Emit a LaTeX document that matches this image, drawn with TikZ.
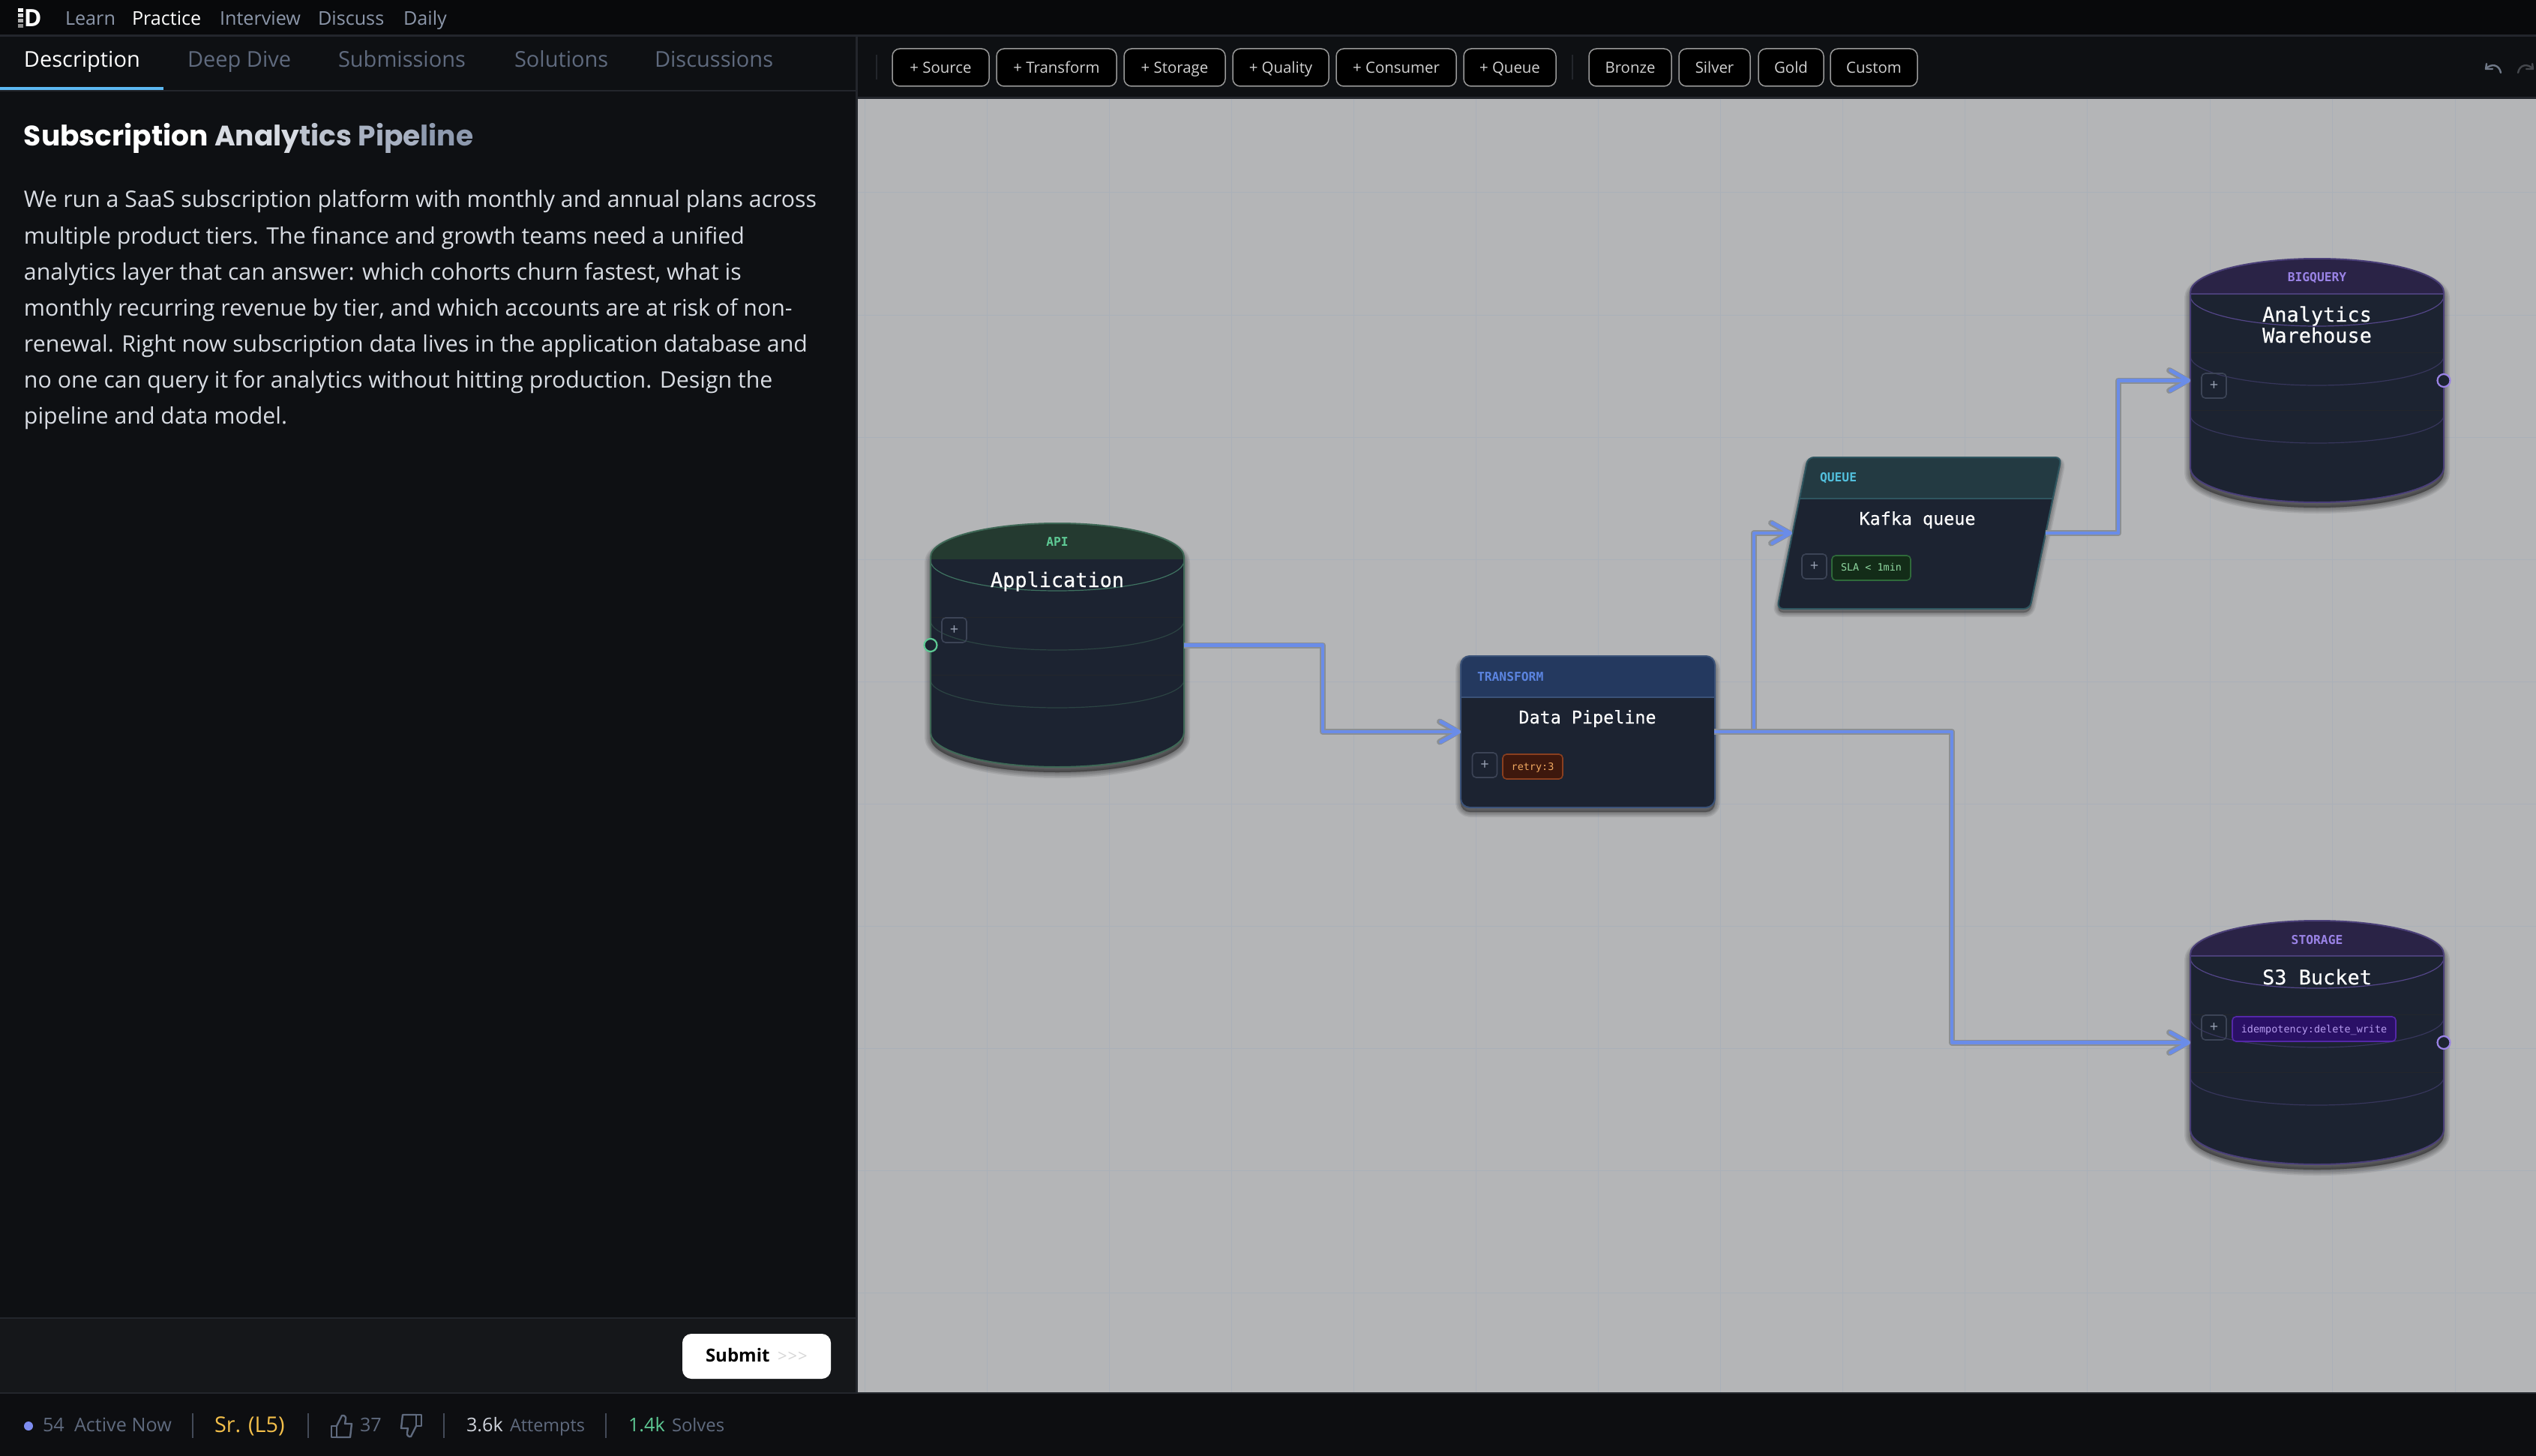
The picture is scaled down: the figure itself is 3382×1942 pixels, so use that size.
\documentclass[tikz,border=0pt]{standalone}
\usepackage{fontspec}
\usetikzlibrary{arrows.meta}
\setmainfont{Open Sans}
\newfontfamily\titlefont{Poppins}
\newfontfamily\codefont{DejaVu Sans Mono}
\newfontfamily\codeheavy[FakeBold=0.25]{DejaVu Sans Mono}
\newcommand{\pxfont}[1]{\fontsize{#1}{#1}\selectfont}
\definecolor{topbar}{HTML}{08090B}
\definecolor{panel}{HTML}{0E1013}
\definecolor{rule}{HTML}{23262C}
\definecolor{submitbar}{HTML}{15171A}
\definecolor{footer}{HTML}{0D0E11}
\definecolor{canvas}{HTML}{B4B5B7}
\definecolor{gridc}{HTML}{AAB0B8}
\definecolor{body}{HTML}{1C2331}
\definecolor{muted}{HTML}{5F6A7E}
\definecolor{navmuted}{HTML}{8C97AA}
\definecolor{bodytext}{HTML}{D8DCE3}
\definecolor{linkcore}{HTML}{6A8CE8}
\definecolor{linkshade}{HTML}{8B8F93}
\definecolor{plusb}{HTML}{3C4456}
\definecolor{plust}{HTML}{9AA3B5}
\definecolor{gbd}{HTML}{3E6856}
\definecolor{ghd}{HTML}{243A30}
\definecolor{gtx}{HTML}{5EC994}
\definecolor{garc}{HTML}{3F7361}
\definecolor{gfaint}{HTML}{2C4443}
\definecolor{pbd}{HTML}{4A3F78}
\definecolor{phd}{HTML}{2A2346}
\definecolor{ptx}{HTML}{9A83E6}
\definecolor{parc}{HTML}{544689}
\definecolor{pfaint}{HTML}{37365C}
\definecolor{bluehd}{HTML}{24395F}
\definecolor{bluebd}{HTML}{3B5278}
\definecolor{bluetx}{HTML}{5B84E0}
\definecolor{cyanhd}{HTML}{233A42}
\definecolor{cyanbd}{HTML}{2F5660}
\definecolor{cyantx}{HTML}{52BFDC}
\definecolor{chipvf}{HTML}{2A1066}
\definecolor{chipvb}{HTML}{5428A8}
\definecolor{chipvt}{HTML}{B79CF0}
\definecolor{chipof}{HTML}{3E180D}
\definecolor{chipob}{HTML}{8A3F1F}
\definecolor{chipot}{HTML}{F0A860}
\definecolor{chipgf}{HTML}{132C18}
\definecolor{chipgb}{HTML}{2F6A3A}
\definecolor{chipgt}{HTML}{8FD8A0}
\definecolor{tabline}{HTML}{5CB8F2}
\definecolor{dotc}{HTML}{7D8CF0}
\definecolor{levelc}{HTML}{F3BF4A}
\definecolor{statc}{HTML}{D0D4DC}
\tikzset{
  x=0.5pt,y=-0.5pt,
  every node/.style={inner sep=0pt,outer sep=0pt},
  navitem/.style={anchor=base west,font=\pxfont{12.6},text=navmuted},
  tabitem/.style={anchor=base west,font=\pxfont{14.5},text=muted},
  bodyline/.style={anchor=base west,font=\pxfont{15.15},text=bodytext},
  toolbtn/.style={draw=black!40!white,fill=black,rounded corners=5pt,line width=.75pt},
  tooltext/.style={anchor=base,font=\pxfont{10.2},text=white!82!black},
  footertext/.style={anchor=base west,font=\pxfont{12.6},text=muted},
  footsep/.style={draw=muted!70!black,line width=.8pt},
  gridline/.style={draw=gridc,line width=.5pt},
  bound/.style={minimum width=169pt,inner sep=0pt},
  kindlabel/.style={font=\codefont\bfseries\pxfont{8.15}},
  shapetitle/.style={font=\codeheavy\pxfont{#1},text=white,anchor=base},
  plusbtn/.style={draw=plusb,rounded corners=2.5pt,line width=.8pt,minimum width=16.5pt,minimum height=16.5pt,text=plust,font=\pxfont{10}},
  chip/.style={rounded corners=2.5pt,line width=.8pt},
  chiptext/.style={anchor=base,font=\codefont\pxfont{6.73}},
  port/.style={circle,fill=body,line width=1.1pt,minimum size=8.5pt},
  link/.style={line width=2.4pt,draw=linkcore,line join=round,
    -{Straight Barb[length=12pt,width=13.5pt,line width=2.4pt,round]},
    preaction={draw=linkshade,line width=4pt,line join=round,
      -{Straight Barb[length=12pt,width=13.5pt,line width=4pt,round]}}},
  softshadow/.style={fill=black,draw=black,fill opacity=.075,draw opacity=.075,line width=#1*.5pt,line join=round},
  icon/.style={draw=muted,line width=1.2pt,line join=round,line cap=round},
}
% cylinder outline, #1 left x, #2 top y
\newcommand{\drumpath}[2]{(#1,#2+45) arc[start angle=180,end angle=360,x radius=169,y radius=45] -- (#1+338,#2+279) arc[start angle=0,end angle=180,x radius=169,y radius=46] -- cycle}
% #1 name #2 left #3 top #4 border #5 header fill #6 arc #7 faint arc #8 divider
\newcommand{\drumshape}[8]{%
  \node[bound,minimum height=162.5pt,anchor=north west] (#1) at (#2,#3) {};
  \foreach \w in {16,13,10,7,4,1} {\path[softshadow=\w,transform canvas={yshift=-3.5pt}] \drumpath{#2}{#3};}
  \fill[body] \drumpath{#2}{#3};
  \begin{scope}
    \clip \drumpath{#2}{#3};
    \fill[#5] (#2,#3) rectangle (#2+338,#3+47);
    \draw[#8,line width=.7pt] (#2,#3+47) -- (#2+338,#3+47);
    \draw[rule,line width=.5pt] (#2,#3+125) -- (#2+338,#3+125);
    \draw[rule,line width=.5pt] (#2,#3+202) -- (#2+338,#3+202);
  \end{scope}
  \draw[#6,line width=.6pt] (#2,#3+50) arc[start angle=180,end angle=0,x radius=169,y radius=40];
  \draw[#7,line width=.6pt] (#2,#3+130) arc[start angle=180,end angle=0,x radius=169,y radius=39];
  \draw[#7,line width=.6pt] (#2,#3+209) arc[start angle=180,end angle=0,x radius=169,y radius=37];
  \draw[#4,line width=1pt] \drumpath{#2}{#3};
}
\begin{document}
\begin{tikzpicture}
\useasboundingbox (0,0) rectangle (3382,1942);
% backgrounds
\fill[footer] (0,0) rectangle (3382,1942);
\fill[topbar] (0,0) rectangle (3382,47);
\fill[panel] (0,48) rectangle (1142,1858);
\fill[submitbar] (0,1759) rectangle (1142,1858);
\fill[panel] (1144,48) rectangle (3382,131);
\fill[canvas] (1144,132) rectangle (3382,1857);
\fill[rule] (0,46) rectangle (3382,49);
\fill[rule] (0,120) rectangle (1142,122);
\fill[rule] (0,1757) rectangle (1142,1759);
\fill[rule] (0,1857) rectangle (3382,1859);
\fill[rule] (1141,48) rectangle (1144,1858);
\fill[rule] (1144,129) rectangle (3382,132);
% logo
\fill[white] (24,11) rectangle (31,16);
\fill[white!85!black] (24,18) rectangle (31,23);
\fill[white!70!black] (24,25) rectangle (31,30);
\fill[white!55!black] (24,32) rectangle (31,37);
\node[anchor=base west,font=\bfseries\pxfont{16},text=white] (logo) at (32,36) {D};
% nav
\node[navitem] (learn) at (87,34) {Learn};
\node[navitem,text=white] (practice) at (176,34) {Practice};
\node[navitem] (interview) at (293,34) {Interview};
\node[navitem] (discuss) at (424,34) {Discuss};
\node[navitem] (daily) at (538,34) {Daily};
% tabs
\node[tabitem,text=white] (tdesc) at (32,90) {Description};
\node[tabitem] (tdeep) at (250,90) {Deep Dive};
\node[tabitem] (tsub) at (451,90) {Submissions};
\node[tabitem] (tsol) at (686,90) {Solutions};
\node[tabitem] (tdis) at (873,90) {Discussions};
\fill[tabline] (0,116) rectangle (218,120);
% title
\definecolor{ta}{HTML}{D8DCE3}\definecolor{tb}{HTML}{BCC3CF}\definecolor{tc}{HTML}{A8B1C2}\definecolor{td}{HTML}{8E9AAF}
\node[anchor=base west,font=\titlefont\bfseries\pxfont{18.8}] (title) at (32,195) {\textcolor{white}{Subscription} \textcolor{ta}{Analy}\textcolor{tb}{tics} \textcolor{tc}{Pipe}\textcolor{td}{line}};
% text
\node[bodyline] (l1) at (32,277) {We run a SaaS subscription platform with monthly and annual plans across};
\node[bodyline] (l2) at (32,325) {multiple product tiers. The finance and growth teams need a unified};
\node[bodyline] (l3) at (32,373) {analytics layer that can answer: which cohorts churn fastest, what is};
\node[bodyline] (l4) at (32,421) {monthly recurring revenue by tier, and which accounts are at risk of non-};
\node[bodyline] (l5) at (32,469) {renewal. Right now subscription data lives in the application database and};
\node[bodyline] (l6) at (32,517) {no one can query it for analytics without hitting production. Design the};
\node[bodyline] (l7) at (32,565) {pipeline and data model.};
% submit
\fill[white,rounded corners=6pt] (910,1779) rectangle (1108,1839);
\node[anchor=base west,font=\bfseries\pxfont{12},text=black] (submit) at (941,1816) {Submit};
\node[anchor=base west,font=\pxfont{11},text=black!16] (chev) at (1037,1816) {>\kern.5pt>\kern.5pt>};
% footer
\fill[dotc] (38,1902) circle (6);
\node[footertext] (n54) at (57,1909) {54};
\node[footertext] (active) at (99,1909) {Active Now};
\draw[footsep] (257,1885) -- (257,1918);
\node[footertext,font=\pxfont{14.4},text=levelc] (level) at (286,1910) {Sr. (L5)};
\draw[footsep] (411,1885) -- (411,1918);
\draw[icon] (442,1902) rectangle (449,1917);
\draw[icon] (449,1902) -- (456,1888) .. controls (459,1887) and (462,1890) .. (461,1893) -- (460,1899) -- (469,1899) -- (467,1917) -- (449,1917);
\node[footertext] (n37) at (480,1909) {37};
\draw[icon] (555,1887) rectangle (562,1902);
\draw[icon] (555,1902) -- (548,1916) .. controls (545,1917) and (542,1914) .. (543,1911) -- (544,1905) -- (535,1905) -- (537,1887) -- (555,1887);
\draw[footsep] (592,1885) -- (592,1918);
\node[footertext,text=statc] (n36) at (622,1909) {3.6k};
\node[footertext,font=\pxfont{11.7}] (attempts) at (680,1909) {Attempts};
\draw[footsep] (808,1885) -- (808,1918);
\node[footertext,text=gtx] (n14) at (838,1909) {1.4k};
\node[footertext,font=\pxfont{11.9}] (solves) at (896,1909) {Solves};
% toolbar
\draw[rule,line width=.8pt] (1169,73) -- (1169,106);
\draw[rule,line width=.8pt] (2097,73) -- (2097,106);
\foreach \xa/\xb/\lab/\nm in {1190/1319/+ Source/bsource,1329/1489/+ Transform/btrans,1499/1634/+ Storage/bstor,1644/1772/+ Quality/bqual,1782/1942/+ Consumer/bcons,1952/2075/+ Queue/bqueue,2119/2229/Bronze/bbron,2239/2334/Silver/bsilv,2345/2432/Gold/bgold,2441/2557/Custom/bcust}{
  \draw[toolbtn] (\xa,65) rectangle (\xb,115);
  \node[tooltext] (\nm) at ({(\xa+\xb)/2},98) {\lab};
}
% undo redo
\draw[icon,draw=navmuted!80!black] (3335,97) .. controls (3333,86) and (3322,84) .. (3315,92);
\draw[icon,draw=navmuted!80!black] (3316,85) -- (3315,92) -- (3324,92);
\draw[icon,draw=rule!85!white] (3358,97) .. controls (3360,86) and (3371,84) .. (3378,92);
\draw[icon,draw=rule!85!white] (3377,85) -- (3378,92) -- (3369,92);
% grid
\foreach \gx in {1153,1316,1479,1642,1805,1968,2131,2294,2457,2620,2783,2947,3110,3274}{\draw[gridline] (\gx,132) -- (\gx,1857);}
\foreach \gy in {257,420,583,746,909,1072,1235,1398,1561,1724}{\draw[gridline] (1144,\gy) -- (3382,\gy);}
% application
\drumshape{app}{1241}{698}{gbd}{ghd}{garc}{gfaint}{ghd}
\node[kindlabel,text=gtx,anchor=base] (applab) at (1410,728) {API};
\node[shapetitle=13.45] (apptitle) at (1410,783) {Application};
\node[plusbtn] (appplus) at (1272.5,840.5) {+};
\node[port,draw=gtx] (appport) at (app.west) {};
% warehouse
\drumshape{wh}{2921}{345}{pbd}{phd}{parc}{pfaint}{pbd}
\node[kindlabel,text=ptx,anchor=base] (whlab) at (3090,375) {BIGQUERY};
\node[shapetitle=13.45] (whtitlea) at (3090,429) {Analytics};
\node[shapetitle=13.45] (whtitleb) at (3090,457) {Warehouse};
\node[plusbtn] (whplus) at (2952.5,514.5) {+};
\node[port,draw=ptx] (whport) at (wh.east) {};
% s3
\drumshape{sthree}{2921}{1228}{pbd}{phd}{parc}{pfaint}{pbd}
\node[kindlabel,text=ptx,anchor=base] (s3lab) at (3090,1259) {STORAGE};
\node[shapetitle=13.45] (s3title) at (3090,1313) {S3 Bucket};
\node[plusbtn] (s3plus) at (2952.5,1370.5) {+};
\draw[chip,draw=chipvb,fill=chipvf] (2977,1356) rectangle (3195,1389);
\node[chiptext,text=chipvt] (s3chip) at (3086,1377) {idempotency:delete\_write};
\node[port,draw=ptx] (s3port) at (sthree.east) {};
% pipeline
\node[bound,minimum height=101pt,anchor=north west] (pipe) at (1948,875) {};
\foreach \w in {14,11,8,5,2} {\path[softshadow=\w,rounded corners=6pt,transform canvas={yshift=-3pt}] (1948,875) rectangle (2287,1077);}
\fill[body,rounded corners=6pt] (1948,875) rectangle (2287,1077);
\begin{scope}
  \clip[rounded corners=6pt] (1948,875) rectangle (2287,1077);
  \fill[bluehd] (1948,875) rectangle (2287,930);
  \draw[bluebd,line width=.8pt] (1948,930) -- (2287,930);
\end{scope}
\draw[bluebd,line width=1pt,rounded corners=6pt] (1948,875) rectangle (2287,1077);
\node[kindlabel,text=bluetx,anchor=base west] (pipelab) at (1970,908) {TRANSFORM};
\node[shapetitle=11.7] (pipetitle) at (2117,965) {Data Pipeline};
\node[plusbtn] (pipeplus) at (1980,1020.5) {+};
\draw[chip,draw=chipob,fill=chipof] (2004,1006) rectangle (2084,1039);
\node[chiptext,text=chipot] (pipechip) at (2044,1027) {retry:3};
% kafka
\node[bound,minimum height=101pt,anchor=north west] (kafka) at (2390,610) {};
\foreach \w in {12,9,6,3} {\path[softshadow=\w,rounded corners=4pt,transform canvas={yshift=-2.5pt}] (2411,610) -- (2749,610) -- (2707,812) -- (2370,812) -- cycle;}
\fill[body,rounded corners=4pt] (2411,610) -- (2749,610) -- (2707,812) -- (2370,812) -- cycle;
\begin{scope}
  \clip[rounded corners=4pt] (2411,610) -- (2749,610) -- (2707,812) -- (2370,812) -- cycle;
  \fill[cyanhd] (2370,610) rectangle (2749,665);
  \draw[cyanbd,line width=.8pt] (2370,665) -- (2749,665);
\end{scope}
\draw[cyanbd,line width=1pt,rounded corners=4pt] (2411,610) -- (2749,610) -- (2707,812) -- (2370,812) -- cycle;
\node[kindlabel,text=cyantx,anchor=base west] (kafkalab) at (2427,642) {QUEUE};
\node[shapetitle=11.7] (kafkatitle) at (2557,700) {Kafka queue};
\node[plusbtn] (kafkaplus) at (2419.5,755.5) {+};
\draw[chip,draw=chipgb,fill=chipgf] (2443,741) rectangle (2548,774);
\node[chiptext,text=chipgt] (kafkachip) at (2495.5,761) {SLA < 1min};
% connectors
\coordinate (v1) at (1764,920);
\coordinate (v2) at (2603,1200);
\coordinate (v3) at (2339,850);
\coordinate (v4) at (2825,600);
\draw[link] (app.east) -| (v1) |- (pipe.west);
\draw[link] (pipe.east) -| (v3) |- (kafka.west);
\draw[link] (pipe.east) -| (v2) |- (sthree.west);
\draw[link] (kafka.east) -| (v4) |- (wh.west);
\end{tikzpicture}
\end{document}
